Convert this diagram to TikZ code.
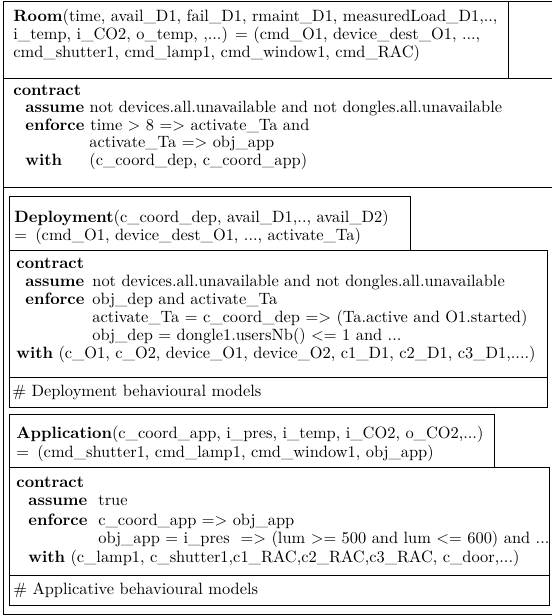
\documentclass[tikz,border=0pt]{standalone}
\begin{document}
\begin{tikzpicture}[x=0.61pt, y=-0.61pt, line width=0.5pt,
	txt/.style={anchor=base west, inner sep=0pt}]
	\useasboundingbox (0,0) rectangle (552,615);
	\clip (0,0) rectangle (552,615);
	% boxes
	\draw (3,1) rectangle (600,614);
	\draw (3,1) rectangle (508,78);
	\draw (3,78) rectangle (600,187);
	\draw (9,196) rectangle (410,250);
	\draw (9,250) rectangle (547,377);
	\draw (9,377) rectangle (547,407);
	\draw (9,414) rectangle (494,467);
	\draw (9,467) rectangle (549,575);
	\draw (9,575) rectangle (549,605);
	% Room
	\node (R1) at (13, 21)	[txt]	{\textbf{Room}(time, avail\_D1, fail\_D1, rmaint\_D1, measuredLoad\_D1,..,};
	\node (R2) at (13, 39)	[txt]	{i\_temp, i\_CO2, o\_temp, ,...) = (cmd\_O1, device\_dest\_O1, ...,};
	\node (R3) at (13, 57)	[txt]	{cmd\_shutter1, cmd\_lamp1, cmd\_window1, cmd\_RAC)};
	\node (RC) at (13, 95)	[txt]	{\textbf{contract}};
	\node (RA) at (25, 112)	[txt]	{\textbf{assume} not devices.all.unavailable and not dongles.all.unavailable};
	\node (RE) at (25, 130)	[txt]	{\textbf{enforce}};
	\node (RE1) at (90, 130)	[txt]	{time $>$ 8 $=>$ activate\_Ta and};
	\node (RE2) at (89, 147)	[txt]	{activate\_Ta $=>$ obj\_app};
	\node (RW) at (25, 165)	[txt]	{\textbf{with}};
	\node (RW1) at (89, 165)	[txt]	{(c\_coord\_dep, c\_coord\_app)};
	% Deployment
	\node (D1) at (14, 222)	[txt]	{\textbf{Deployment}(c\_coord\_dep, avail\_D1,.., avail\_D2)};
	\node (D2) at (14, 240)	[txt]	{$=$\enspace(cmd\_O1, device\_dest\_O1, ..., activate\_Ta)};
	\node (DC) at (16, 268)	[txt]	{\textbf{contract}};
	\node (DA) at (25, 286)	[txt]	{\textbf{assume}};
	\node (DA1) at (92, 286)	[txt]	{not devices.all.unavailable and not dongles.all.unavailable};
	\node (DE) at (25, 304)	[txt]	{\textbf{enforce}};
	\node (DE1) at (92, 304)	[txt]	{obj\_dep and activate\_Ta};
	\node (DE2) at (92, 322)	[txt]	{activate\_Ta = c\_coord\_dep $=>$ (Ta.active and O1.started)};
	\node (DE3) at (92, 340)	[txt]	{obj\_dep = dongle1.usersNb() $<=$ 1 and ...};
	\node (DW) at (16, 358)	[txt]	{\textbf{with} (c\_O1, c\_O2, device\_O1, device\_O2, c1\_D1, c2\_D1, c3\_D1,....)};
	\node (DM) at (12, 396)	[txt]	{\# Deployment behavioural models};
	% Application
	\node (A1) at (16, 438)	[txt]	{\textbf{Application}(c\_coord\_app, i\_pres, i\_temp, i\_CO2, o\_CO2,...)};
	\node (A2) at (16, 457)	[txt]	{$=$\enspace(cmd\_shutter1, cmd\_lamp1, cmd\_window1, obj\_app)};
	\node (AC) at (16, 487)	[txt]	{\textbf{contract}};
	\node (AA) at (28, 505)	[txt]	{\textbf{assume}};
	\node (AA1) at (98, 505)	[txt]	{true};
	\node (AE) at (28, 525)	[txt]	{\textbf{enforce}};
	\node (AE1) at (98, 525)	[txt]	{c\_coord\_app $=>$ obj\_app};
	\node (AE2) at (98, 543)	[txt]	{obj\_app = i\_pres \ $=>$ (lum $>=$ 500 and lum $<=$ 600) and ...};
	\node (AW) at (28, 562)	[txt]	{\textbf{with} (c\_lamp1, c\_shutter1,c1\_RAC,c2\_RAC,c3\_RAC, c\_door,...)};
	\node (AM) at (13, 594)	[txt]	{\# Applicative behavioural models};
\end{tikzpicture}
\end{document}
